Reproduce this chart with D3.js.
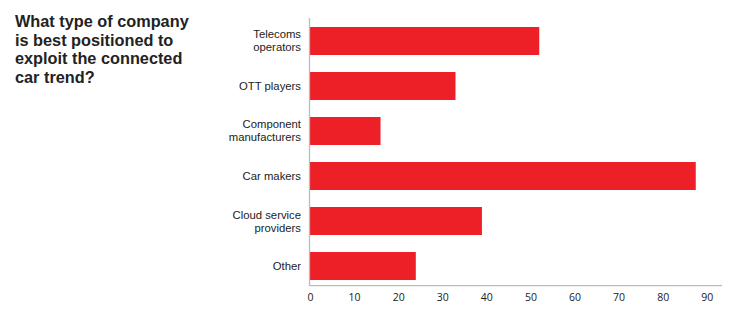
<!DOCTYPE html>
<html><head><meta charset="utf-8">
<script src="https://cdn.jsdelivr.net/npm/d3@7"></script>
<style>body{margin:0;background:#fff;}svg{display:block;}</style>
</head><body>
<svg id="c" width="742" height="329"></svg>
<script>
const titleLines = ["What type of company","is best positioned to","exploit the connected","car trend?"];
const categories = [["Telecoms","operators"],["OTT players"],["Component","manufacturers"],["Car makers"],["Cloud service","providers"],["Other"]];
const values = [52, 33, 16, 87.5, 39, 24];
const ticks = [0,10,20,30,40,50,60,70,80,90];

const svg = d3.select("#c");
const x = d3.scaleLinear().domain([0, 93]).range([310, 720]);
const y = d3.scaleBand().domain(d3.range(categories.length)).range([18, 289]).paddingInner(0.378).paddingOuter(0.2);

const title = svg.append("g");
title.selectAll("text").data(titleLines).join("text")
  .attr("font-family","Liberation Sans, Arial, sans-serif").attr("font-weight","bold").attr("font-size",16.3)
  .attr("fill","#222")
  .attr("x", 15).attr("y", (d,i)=>27+i*18.7).text(d=>d);

svg.append("g").selectAll("rect").data(values).join("rect")
  .attr("x", x(0)).attr("y",(d,i)=>y(i)).attr("width",d=>x(d)-x(0)).attr("height",y.bandwidth())
  .attr("fill","#ed1f27");

const lab = svg.append("g").selectAll("text").data(categories).join("text")
  .attr("text-anchor","end").attr("font-family","Liberation Sans, Arial, sans-serif").attr("font-size",11.3).attr("fill","#222");
lab.each(function(d,i){
  const t = d3.select(this);
  const cy = y(i)+y.bandwidth()/2;
  d.forEach((line,j)=>{
    t.append("tspan").attr("x",301).attr("y", cy + 4 + (j - (d.length-1)/2)*13).text(line);
  });
});

svg.append("line").attr("x1",309.5).attr("x2",309.5).attr("y1",18).attr("y2",286).attr("stroke","#bbb").attr("stroke-width",1.3);
svg.append("line").attr("x1",309).attr("x2",722).attr("y1",285.7).attr("y2",285.7).attr("stroke","#bbb").attr("stroke-width",1.3);

const xAxis = d3.axisBottom(x).tickValues(ticks).tickSize(0).tickPadding(0);
const ax = svg.append("g").attr("transform","translate(0,294)").call(xAxis);
ax.select(".domain").remove();
ax.selectAll("text").attr("font-family","Open Sans, sans-serif").attr("font-size",10.5).attr("fill","#222").attr("dy","0.71em");
</script>
</body></html>
